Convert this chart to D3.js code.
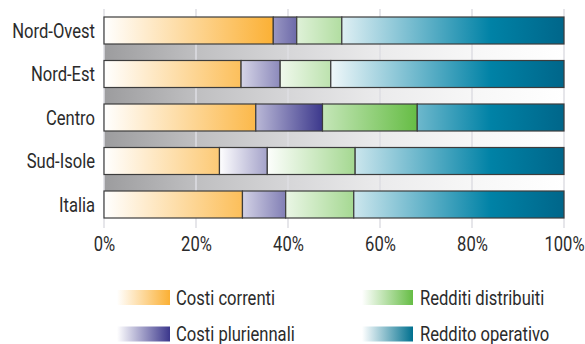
<!DOCTYPE html>
<html>
<head>
<meta charset="utf-8">
<script src="https://cdn.jsdelivr.net/npm/d3@7"></script>
<style>
  html, body { margin: 0; padding: 0; background: #ffffff; }
  svg { display: block; }
  text { font-family: "Roboto", "Liberation Sans", sans-serif; fill: #2b2b2b; }
</style>
</head>
<body>
<svg id="chart" width="585" height="344"></svg>
<script>
// Composizione percentuale per area geografica
const categories = ["Nord-Ovest", "Nord-Est", "Centro", "Sud-Isole", "Italia"];
const costiCorrenti      = [36.8, 29.8, 33.0, 25.1, 30.1];
const costiPluriennali   = [5.1, 8.5, 14.5, 10.4, 9.4];
const redditiDistribuiti = [9.8, 11.0, 20.6, 19.1, 14.8];
const redditoOperativo   = [48.3, 50.7, 31.9, 45.4, 45.7];
const seriesNames = ["Costi correnti", "Costi pluriennali", "Redditi distribuiti", "Reddito operativo"];
const tickValues = [0, 20, 40, 60, 80, 100];

const rows = categories.map((c, i) => ({
  cat: c,
  s0: costiCorrenti[i],
  s1: costiPluriennali[i],
  s2: redditiDistribuiti[i],
  s3: redditoOperativo[i]
}));
const keys = ["s0", "s1", "s2", "s3"];

// narrow lettering: horizontal squeeze applied to every label
const SX = 0.83;
const FS = 20;

// Gradient stops per series, positioned along the value axis (percent)
const seriesGrad = [
  { from: 0,  to: 37, stops: [[0, "#ffffff"], [1, "#fbb034"]], legend: "#fbb034" },
  { from: 25, to: 48, stops: [[0, "#ffffff"], [1, "#38348a"]], legend: "#3b378c" },
  { from: 35, to: 68, stops: [[0, "#ffffff"], [1, "#66bd45"]], legend: "#66bd45" },
  { from: 47, to: 100, stops: [[0, "#ffffff"], [0.7, "#0082a6"], [1, "#00668a"]], legend: "#00708f" }
];

const svg = d3.select("#chart");
const defs = svg.append("defs");

const x = d3.scaleLinear().domain([0, 100]).range([104, 564]);
const y = d3.scaleBand().domain(categories).range([17, 218])
  .paddingInner(0.3793).paddingOuter(0).align(0);

// bar gradients in user space so that each series shades along the axis
seriesGrad.forEach((g, i) => {
  const lg = defs.append("linearGradient")
    .attr("id", "grad" + i)
    .attr("gradientUnits", "userSpaceOnUse")
    .attr("x1", x(g.from)).attr("x2", x(g.to))
    .attr("y1", 0).attr("y2", 0);
  g.stops.forEach(s => lg.append("stop").attr("offset", s[0]).attr("stop-color", s[1]));

  const sw = defs.append("linearGradient")
    .attr("id", "legend" + i)
    .attr("x1", 0).attr("x2", 1).attr("y1", 0).attr("y2", 0);
  sw.append("stop").attr("offset", 0).attr("stop-color", "#ffffff");
  sw.append("stop").attr("offset", 1).attr("stop-color", g.legend);
});

// grey separator bands
const bandGrad = defs.append("linearGradient")
  .attr("id", "bandGrad")
  .attr("gradientUnits", "userSpaceOnUse")
  .attr("x1", x(0)).attr("x2", x(100)).attr("y1", 0).attr("y2", 0);
[[0, "#9c9c9e"], [0.2, "#bfbfc1"], [0.4, "#d6d6d8"], [0.6, "#ebebec"], [0.8, "#f7f7f7"], [1, "#ffffff"]]
  .forEach(s => bandGrad.append("stop").attr("offset", s[0]).attr("stop-color", s[1]));

svg.append("g")
  .selectAll("rect")
  .data(categories.slice(0, -1))
  .join("rect")
  .attr("x", x(0))
  .attr("width", x(100) - x(0))
  .attr("y", d => y(d) + y.bandwidth())
  .attr("height", (d, i) => y(categories[i + 1]) - y(d) - y.bandwidth())
  .attr("fill", "url(#bandGrad)");

// vertical grid lines
svg.append("g")
  .selectAll("line")
  .data(tickValues)
  .join("line")
  .attr("x1", d => x(d)).attr("x2", d => x(d))
  .attr("y1", 9).attr("y2", 228)
  .attr("stroke", "#dedee3")
  .attr("stroke-width", 1.5);

// stacked bars
const stacked = d3.stack().keys(keys)(rows);
svg.append("g")
  .selectAll("g")
  .data(stacked)
  .join("g")
  .attr("fill", (d, i) => `url(#grad${i})`)
  .selectAll("rect")
  .data(d => d)
  .join("rect")
  .attr("x", d => x(d[0]))
  .attr("width", d => x(d[1]) - x(d[0]))
  .attr("y", d => y(d.data.cat))
  .attr("height", y.bandwidth())
  .attr("stroke", "#3c3c3c")
  .attr("stroke-width", 1.2);

// category labels
svg.append("g")
  .selectAll("text")
  .data(categories)
  .join("text")
  .attr("transform", d => `translate(95,${y(d) + y.bandwidth() / 2}) scale(${SX},1)`)
  .attr("dy", "0.36em")
  .attr("text-anchor", "end")
  .attr("font-size", FS)
  .text(d => d);

// value axis labels
const xAxis = d3.axisBottom(x).tickValues(tickValues).tickFormat(d => d + "%").tickSize(0).tickPadding(0);
const axisG = svg.append("g").attr("transform", "translate(0,236)").call(xAxis);
axisG.select(".domain").remove();
axisG.selectAll("text")
  .attr("font-size", FS)
  .attr("font-family", null)
  .attr("fill", "#2b2b2b")
  .attr("dy", "0.75em")
  .attr("transform", `scale(${SX},1)`);

// legend
const legendPos = [
  { sx: 117, tx: 176, ty: 290 },
  { sx: 117, tx: 176, ty: 326.5 },
  { sx: 362, tx: 420, ty: 290 },
  { sx: 362, tx: 420, ty: 326.5 }
];
const legend = svg.append("g")
  .selectAll("g")
  .data(seriesNames)
  .join("g")
  .attr("transform", (d, i) => `translate(0,${legendPos[i].ty})`);
legend.append("rect")
  .attr("x", (d, i) => legendPos[i].sx)
  .attr("y", 0)
  .attr("width", (d, i) => i < 2 ? 53 : 51)
  .attr("height", 15)
  .attr("fill", (d, i) => `url(#legend${i})`);
legend.append("text")
  .attr("transform", (d, i) => `translate(${legendPos[i].tx},14.5) scale(${SX},1)`)
  .attr("font-size", FS)
  .text(d => d);
</script>
</body>
</html>
